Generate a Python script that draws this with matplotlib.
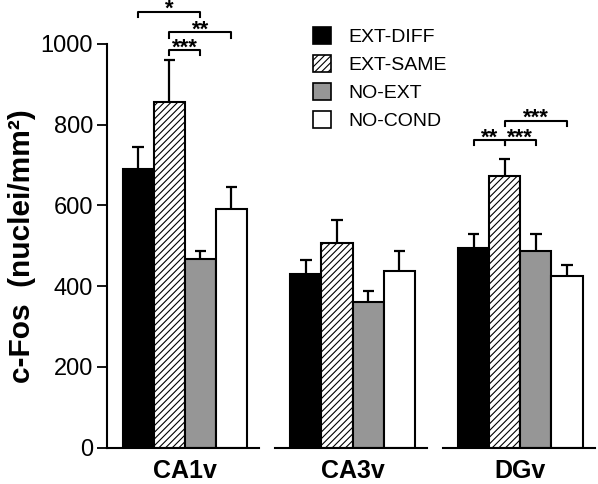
import matplotlib
matplotlib.use("Agg")
import matplotlib.pyplot as plt
from matplotlib.patches import Patch
import numpy as np

plt.rcParams['font.family'] = ['Liberation Sans', 'DejaVu Sans']
plt.rcParams['hatch.linewidth'] = 0.8

regions = ["CA1v", "CA3v", "DGv"]
groups = ["EXT-DIFF", "EXT-SAME", "NO-EXT", "NO-COND"]
means = {
    "CA1v": [689, 857, 466, 590],
    "CA3v": [431, 508, 361, 438],
    "DGv":  [495, 673, 487, 425],
}
sems = {
    "CA1v": [56, 104, 20, 56],
    "CA3v": [34, 55, 28, 48],
    "DGv":  [34, 43, 42, 27],
}
yticks = [0, 200, 400, 600, 800, 1000]
# significance: (region, bar_i, bar_j, level, label)
sig = [
    ("CA1v", 0, 2, 1080, "*"),
    ("CA1v", 1, 3, 1029, "**"),
    ("CA1v", 1, 2, 985, "***"),
    ("DGv", 0, 1, 762, "**"),
    ("DGv", 1, 2, 762, "***"),
    ("DGv", 1, 3, 810, "***"),
]

facecolors = ["black", "white", "#969696", "white"]
hatches = [None, "/////", None, None]

fig = plt.figure(figsize=(5.98, 4.84), dpi=100)
ax = fig.add_axes([107/598, 1-447.5/484, 488/598, (447.5-44)/484])

group_step = 5.4
bw = 1.0
for g, reg in enumerate(regions):
    base = g * group_step
    xs = base + 0.5 + np.arange(4)
    for i in range(4):
        ax.bar(xs[i], means[reg][i], width=bw, color=facecolors[i], hatch=hatches[i],
               edgecolor="black", linewidth=1.5, zorder=2)
        top = means[reg][i]
        ax.plot([xs[i], xs[i]], [top, top + sems[reg][i]], color="black", lw=1.6, zorder=1,
                solid_capstyle="butt")
        ax.plot([xs[i]-0.18, xs[i]+0.18], [top + sems[reg][i]]*2, color="black", lw=1.6,
                zorder=1, solid_capstyle="butt")
    # broken x-axis segment
    ax.plot([base - 0.5, base + 4.4], [0, 0], color="black", lw=1.5, clip_on=False, zorder=3)
    ax.text(base + 2.0, -0.058, reg, transform=ax.get_xaxis_transform(), ha="center",
            va="center", fontsize=18, fontweight="bold")

for reg, i, j, lev, lab in sig:
    g = regions.index(reg)
    x1 = g * group_step + 0.5 + i
    x2 = g * group_step + 0.5 + j
    d = 13
    ax.plot([x1, x1, x2, x2], [lev - d, lev, lev, lev - d], color="black", lw=1.5,
            clip_on=False)
    ax.text((x1 + x2) / 2, lev - 8, lab, ha="center", va="baseline", fontsize=16,
            fontweight="bold", clip_on=False)

ax.set_xlim(-0.5, 15.2)
ax.set_ylim(0, 1000)
ax.set_yticks(yticks)
ax.set_yticklabels([str(t) for t in yticks], fontsize=17)
ax.tick_params(axis="y", direction="out", length=7, width=1.3, pad=3)
ax.set_xticks([])
for s in ["top", "right", "bottom"]:
    ax.spines[s].set_visible(False)
ax.spines["left"].set_linewidth(1.5)
ax.spines["left"].set_bounds(0, 1000)
ax.set_ylabel("c-Fos  (nuclei/mm²)", fontsize=21.5, fontweight="bold", labelpad=3)

handles = [Patch(facecolor=facecolors[i], edgecolor="black", hatch=hatches[i], linewidth=1.2)
           for i in range(4)]
leg = ax.legend(handles, groups, loc="upper left", bbox_to_anchor=(313/598, 1-27/484),
                bbox_transform=fig.transFigure, frameon=False, fontsize=14,
                handlelength=0.93, handleheight=0.93, handletextpad=0.87,
                labelspacing=0.47, borderpad=0, borderaxespad=0)

fig.savefig("out.png", dpi=100)
